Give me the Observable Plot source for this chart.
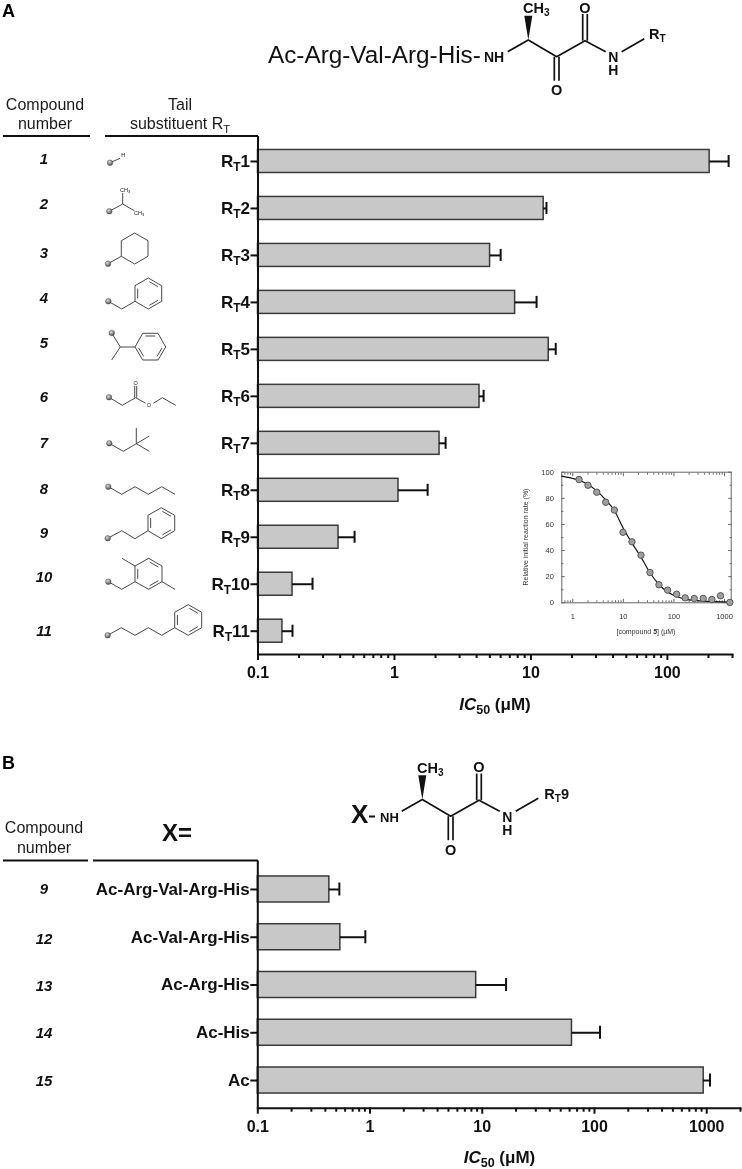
<!DOCTYPE html>
<html><head><meta charset="utf-8">
<script src="https://cdn.jsdelivr.net/npm/d3@7"></script>
<script src="https://cdn.jsdelivr.net/npm/@observablehq/plot@0.6"></script>
<style>
html,body{margin:0;padding:0;background:#fff}
#wrap{position:relative;width:742px;height:1169px;overflow:hidden;font-family:"Liberation Sans",Arial,sans-serif}
#wrap>svg,#wrap>div>svg{position:absolute;left:0;top:0;will-change:transform}
</style></head><body><div id="wrap"></div>
<script>
// ---------- Panel A data
const tailNames = ["1","2","3","4","5","6","7","8","9","10","11"];
const tailIC50  = [204,12.4,5.02,7.66,13.5,4.2,2.14,1.07,0.389,0.179,0.151];
const tailError = [281,13.0,6.0,11.0,15.2,4.5,2.37,1.75,0.51,0.251,0.179];
const tailTicksMajor = [0.1,1,10,100];
const tailTicksMinor = [0.2,0.3,0.4,0.5,0.6,0.7,0.8,0.9,2,3,4,5,6,7,8,9,20,30,40,50,60,70,80,90,200,300];
// ---------- Panel B data
const headNames = ["Ac-Arg-Val-Arg-His","Ac-Val-Arg-His","Ac-Arg-His","Ac-His","Ac"];
const headIC50  = [0.434,0.544,8.83,63,940];
const headError = [0.533,0.908,16.3,112,1070];
const headTicksMajor = [0.1,1,10,100,1000];
const headTicksMinor = [0.2,0.3,0.4,0.5,0.6,0.7,0.8,0.9,2,3,4,5,6,7,8,9,20,30,40,50,60,70,80,90,200,300,400,500,600,700,800,900,2000];
// ---------- Inset data
const doseConc = [1.33,2.0,2.98,4.48,6.64,9.85,14.8,22.3,33.6,50.6,75,113,167,252,379,562,834,1274];
const doseRate = [94.4,90,84.7,77,71,54,46.7,36.5,23.2,13.8,9.7,6.6,3.8,3.3,3.3,2.5,5.4,0.3];
const curveConc = [0.607,1,1.65,2.98,4.48,6.64,9.85,14.8,22.3,33.6,50.6,75,113,167,379,1274];
const curveRate = [97,95.2,92.3,85.7,78.8,70.7,57.4,45.7,35,23,14,8.2,4.8,2.8,1.3,0.5];
const insetMajor = [1,10,100,1000];
const insetMinor = [0.7,0.8,0.9,2,3,4,5,6,7,8,9,20,30,40,50,60,70,80,90,200,300,400,500,600,700,800,900];
const insetY = [0,20,40,60,80,100];
const insetYMinor = [10,30,50,70,90];
// ---------- Compound labels
const compoundsA = ["1","2","3","4","5","6","7","8","9","10","11"];
const compoundsB = ["9","12","13","14","15"];

const wrap = document.getElementById("wrap");
const font = '"Liberation Sans",Arial,sans-serif';
const rows = (names, vals, errs) => names.map((n,i)=>({name:n,v:vals[i],e:errs[i]}));

function barPanel({data,domain,xRange,yRange,top,bottom,major,minor,padding,capInset}){
  return Plot.plot({
    width:742,height:1169,marginLeft:xRange[0],marginRight:742-xRange[1],marginTop:top,marginBottom:1169-bottom,
    style:{fontFamily:font,background:"transparent",color:"#111"},
    x:{type:"log",domain,range:xRange,label:null},
    y:{type:"band",domain:data.map(d=>d.name),range:yRange,paddingInner:padding,paddingOuter:padding/2,align:.5,round:false,label:null},
    marks:[
      Plot.barX(data,{x1:()=>domain[0],x2:"v",y:"name",fill:"#c8c8c8",stroke:"#3a3a3a",strokeWidth:1.5}),
      Plot.ruleY(data,{x1:"v",x2:"e",y:"name",stroke:"#111",strokeWidth:2}),
      Plot.tickX(data,{x:"e",y:"name",stroke:"#111",strokeWidth:2,insetTop:capInset,insetBottom:capInset}),
      Plot.ruleX([domain[0]],{stroke:"#111",strokeWidth:2}),
      Plot.frame({anchor:"bottom",stroke:"#111",strokeWidth:2}),
      Plot.axisX({ticks:major,tickSize:6,tickPadding:6,strokeWidth:2,tickFormat:d=>String(d),fontSize:16,fontWeight:"bold",label:null,anchor:"bottom"}),
      Plot.axisX({ticks:minor,tickSize:4,strokeWidth:2,text:null,label:null,anchor:"bottom"}),
      Plot.axisY({tickSize:7,tickPadding:1,strokeWidth:2,fontSize:17,fontWeight:"bold",label:null,anchor:"left",tickFormat:d=>d})
    ]
  });
}
// Tail-substituent bars
const plotA = barPanel({data:rows(tailNames,tailIC50,tailError),domain:[0.1,300],xRange:[257.5,732],yRange:[137.5,654.2],top:136,bottom:654,
  major:tailTicksMajor,minor:tailTicksMinor,padding:.51,capInset:5.5});
wrap.appendChild(plotA);
// RT subscripts on the tick labels
d3.select(plotA).selectAll('[aria-label="y-axis tick label"] text').each(function(){
  const n=this.textContent; this.textContent="";
  const s=d3.select(this);
  s.append("tspan").text("R");
  s.append("tspan").attr("dy",4).attr("font-size",12).text("T");
  s.append("tspan").attr("dy",-4).text(n);
});
// N-terminal group bars
const plotB = barPanel({data:rows(headNames,headIC50,headError),domain:[0.1,2000],xRange:[257.3,740],yRange:[865.1,1103.9],top:860.5,bottom:1107.7,
  major:headTicksMajor,minor:headTicksMinor,padding:.455,capInset:6.5});
wrap.appendChild(plotB);

// Inset dose-response
const dots = doseConc.map((c,i)=>({c,r:doseRate[i]}));
const curve = curveConc.map((c,i)=>({c,r:curveRate[i]}));
const xd=[0.607,1355];
const insetAxisColor="#666";
const plotC = Plot.plot({
  width:742,height:640,marginLeft:561.3,marginRight:11.3,marginTop:471.7,marginBottom:37.7,
  style:{fontFamily:font,background:"transparent",color:"#333"},
  x:{type:"log",domain:xd,label:null},y:{domain:[0,100],label:null},
  marks:[
    Plot.frame({stroke:insetAxisColor,strokeWidth:1}),
    ...["bottom","top"].flatMap(anchor=>[
      Plot.axisX({anchor,ticks:insetMajor,tickSize:-3.5,text:null,label:null,stroke:insetAxisColor}),
      Plot.axisX({anchor,ticks:insetMinor,tickSize:-2,text:null,label:null,stroke:insetAxisColor})]),
    ...["left","right"].flatMap(anchor=>[
      Plot.axisY({anchor,ticks:insetY,tickSize:-3.5,text:null,label:null,stroke:insetAxisColor}),
      Plot.axisY({anchor,ticks:insetYMinor,tickSize:-2,text:null,label:null,stroke:insetAxisColor})]),
    Plot.axisX({anchor:"bottom",ticks:insetMajor,tickSize:0,tickPadding:11,fontSize:7.5,label:null,tickFormat:d=>String(d)}),
    Plot.axisY({anchor:"left",ticks:insetY,tickSize:0,tickPadding:8,fontSize:7.5,label:null}),
    Plot.line(curve,{x:"c",y:"r",curve:"monotone-x",stroke:"#111",strokeWidth:1.2}),
    Plot.dot(dots,{x:"c",y:"r",r:3.2,fill:"#a0a0a0",stroke:"#555",strokeWidth:1})
  ]
});
wrap.appendChild(plotC);

// ---------- Overlay: headings, compound numbers, chemical structures
const ov=d3.select(wrap).append("svg").attr("width",742).attr("height",1169).attr("font-family",font);
const defs=ov.append("defs");
const g=defs.append("radialGradient").attr("id","ball").attr("cx","40%").attr("cy","35%").attr("r","70%");
g.append("stop").attr("offset","0%").attr("stop-color","#ddd");
g.append("stop").attr("offset","100%").attr("stop-color","#444");

function T(x,y,parts,o={}){
  const t=ov.append("text").attr("x",x).attr("y",y).attr("text-anchor",o.anchor||"start")
    .attr("font-size",o.size||16).attr("font-weight",o.weight||"normal").attr("font-style",o.style||"normal").attr("fill",o.fill||"#1a1a1a");
  if(o.rotate!=null) t.attr("transform",`rotate(${o.rotate} ${x} ${y})`);
  let cur=0;
  (Array.isArray(parts)?parts:[parts]).forEach(p=>{
    const s=typeof p==="string"?{t:p}:p;
    const sp=t.append("tspan").text(s.t);
    const wantDy=s.sub?(o.subDy||4):0;
    if(wantDy!==cur){sp.attr("dy",wantDy-cur);cur=wantDy;}
    if(s.sub) sp.attr("font-size",s.size||(o.size||16)*.7);
    if(s.weight) sp.attr("font-weight",s.weight);
    if(s.style) sp.attr("font-style",s.style);
  });
  return t;
}
function L(points,o={}){
  ov.append("polyline").attr("points",points.map(p=>p.join(",")).join(" ")).attr("fill","none")
    .attr("stroke",o.color||"#333").attr("stroke-width",o.w||.9).attr("stroke-linejoin","round");
}
function ball(x,y){ov.append("circle").attr("cx",x).attr("cy",y).attr("r",2.8).attr("fill","url(#ball)").attr("stroke","#444").attr("stroke-width",.4);}
function ring(pts,doubles){
  L([...pts,pts[0]]);
  const cx=d3.mean(pts,p=>p[0]),cy=d3.mean(pts,p=>p[1]);
  doubles.forEach(i=>{
    const a=pts[i],b=pts[(i+1)%6],k=.8;
    const f=(p,t)=>[cx+(p[0]-cx)*k+(b[0]-a[0])*t*0.08, cy+(p[1]-cy)*k+(b[1]-a[1])*t*0.08];
    L([f(a,1),f(b,-1)]);
  });
}

// Panel letters
T(2,17,"A",{size:18,weight:"bold",fill:"#000"});
T(2,769,"B",{size:18,weight:"bold",fill:"#000"});

// Panel A headers
T(45,110,"Compound",{anchor:"middle",size:16});
T(45,129,"number",{anchor:"middle",size:16});
T(180,110,"Tail",{anchor:"middle",size:16});
T(180,129,["substituent R",{t:"T",sub:true}],{anchor:"middle",size:16});
L([[3,136],[90,136]],{color:"#111",w:1.8});
L([[105,136],[258,136]],{color:"#111",w:1.8});
// Panel B headers
T(44,833,"Compound",{anchor:"middle",size:16});
T(44,853,"number",{anchor:"middle",size:16});
T(177,841,"X=",{anchor:"middle",size:24,weight:"bold",fill:"#111"});
L([[3,860.5],[88,860.5]],{color:"#111",w:1.8});
L([[93,860.5],[258,860.5]],{color:"#111",w:1.8});

// Compound numbers
const yA=[164,209,258,303,348,402,448,494,538,582,636];
compoundsA.forEach((c,i)=>T(44,yA[i],c,{anchor:"middle",size:15,weight:"bold",style:"italic",fill:"#111"}));
const yB=[894,944,991,1038,1086];
compoundsB.forEach((c,i)=>T(44,yB[i],c,{anchor:"middle",size:15,weight:"bold",style:"italic",fill:"#111"}));

// IC50 axis titles
[[495,710],[499.5,1163]].forEach(([x,y])=>T(x,y,[{t:"IC",style:"italic"},{t:"50",sub:true,size:12.5}," (μM)"],{anchor:"middle",size:17,weight:"bold",fill:"#111"}));

// Inset titles
T(528,537,"Relative initial reaction rate (%)",{anchor:"middle",size:7,rotate:-90,fill:"#333"});
T(646,634,["[compound ",{t:"5",weight:"bold",style:"italic"},"] (μM)"],{anchor:"middle",size:7,fill:"#333"});

// Backbone structures
function backbone(dx,dy,nhX,nhSize){
  const B=(p)=>p.map(([x,y])=>[x+dx,y+dy]);
  const c={color:"#111",w:1.7};
  L(B([[507.7,51.7],[528.3,40],[556.7,56.7],[585,40.7],[605.7,51.7]]),c);
  L(B([[621.7,51.7],[644.3,38.7]]),c);
  L(B([[554.3,56.7],[554.3,80.7]]),c);L(B([[559,56.7],[559,80.7]]),c);
  L(B([[582.7,40.7],[582.7,14]]),c);L(B([[587.3,40.7],[587.3,14]]),c);
  ov.append("polygon").attr("points",B([[528.3,40],[524.3,15.7],[532.3,15.7]]).map(p=>p.join(",")).join(" ")).attr("fill","#111");
  T(523+dx,13+dy,["CH",{t:"3",sub:true,size:10}],{size:14.5,weight:"bold",fill:"#111",subDy:3});
  T(556.7+dx,95+dy,"O",{anchor:"middle",size:14.5,weight:"bold",fill:"#111"});
  T(585+dx,12.5+dy,"O",{anchor:"middle",size:14.5,weight:"bold",fill:"#111"});
  T(613.3+dx,62+dy,"N",{anchor:"middle",size:14,weight:"bold",fill:"#111"});
  T(613.3+dx,75+dy,"H",{anchor:"middle",size:14,weight:"bold",fill:"#111"});
  T(nhX,62+dy,"NH",{size:nhSize,weight:"bold",fill:"#111"});
}
backbone(0,0,484,14);
T(268,63.3,"Ac-Arg-Val-Arg-His-",{size:24.3,fill:"#111"});
T(649,39,["R",{t:"T",sub:true,size:10}],{size:14.5,weight:"bold",fill:"#111",subDy:3});
backbone(-106,759.5,380,13);
T(351,822.7,"X",{size:26,weight:"bold",fill:"#111"});
L([[369,816.5],[375,816.5]],{color:"#111",w:2});
T(544.3,799,["R",{t:"T",sub:true,size:10},{t:"9"}],{size:14.5,weight:"bold",fill:"#111",subDy:3});

// Tail substituent structures (drawings, not data)
const sm={size:5.5,fill:"#222"};
// 1
L([[110,162.7],[120,158.3]]);ball(110,162.7);T(123.3,157,"H",{...sm,anchor:"middle"});
// 2
L([[109.3,211.3],[122.7,204],[122.7,193]]);L([[122.7,204],[134.3,210.7]]);ball(109.3,211.3);
T(120,191.5,["CH",{t:"3",sub:true,size:4}],{...sm,subDy:1.2});T(134,214.5,["CH",{t:"3",sub:true,size:4}],{...sm,subDy:1.2});
// 3
ring([[121.3,256.3],[121.3,240.7],[134.7,233],[148,240.7],[148,256.3],[134.7,264]],[]);
L([[108,263.7],[121.3,256.3]]);ball(108,263.7);
// 4
ring([[135,301.3],[135,285.7],[148.3,278],[161.7,285.7],[161.7,301.3],[148.3,309]],[0,2,4]);
L([[108.3,301.3],[121.7,309],[135,301.3]]);ball(108.3,301.3);
// 5
ring([[135,347],[142.7,333.3],[158,333.3],[165.7,347],[158,360],[142.7,360]],[1,3,5]);
L([[111.7,333],[120.3,347],[135,347]]);L([[120.3,347],[111.7,360]]);ball(111.7,333);
// 6
L([[109,397.3],[122.3,405.3],[135.7,397.7],[145.7,403.3]]);L([[134.7,397.7],[134.7,386]]);L([[136.7,397.7],[136.7,386]]);
L([[153.3,403.3],[162.3,397.7],[175.7,405.3]]);ball(109,397.3);
T(135.7,384.5,"O",{...sm,anchor:"middle"});T(149,407.3,"O",{...sm,anchor:"middle"});
// 7
L([[109.3,443.3],[123.3,451.3],[136.3,443.7],[136.3,428]]);L([[136.3,443.7],[149.3,436]]);L([[136.3,443.7],[149.3,451.3]]);ball(109.3,443.3);
// 8
L([[108.3,486.7],[121.7,494.3],[135,486.7],[148.3,494.3],[161.7,486.7],[175,494.3]]);ball(108.3,486.7);
// 9
ring([[148,530.7],[148,515.3],[161.3,507.7],[174.7,515.3],[174.7,530.7],[161.3,538.7]],[0,2,4]);
L([[107.7,538.3],[121.7,530.7],[135,538.7],[148,530.7]]);ball(107.7,538.3);
// 10
ring([[135,581.7],[135,566],[148.7,558.3],[162,566],[162,581.7],[148.7,589.3]],[0,2,4]);
L([[108.3,581.7],[121.7,589.3],[135,581.7]]);L([[135,566],[122,558.3]]);L([[162,581.7],[175,589.3]]);ball(108.3,581.7);
// 11
ring([[174.7,627.7],[174.7,612.3],[188.3,604.7],[201.7,612.3],[201.7,627.7],[188.3,635.3]],[0,2,4]);
L([[107.7,635.3],[121.3,627.7],[135,635.3],[148.3,627.7],[161.7,635.3],[174.7,627.7]]);ball(107.7,635.3);
</script></body></html>
